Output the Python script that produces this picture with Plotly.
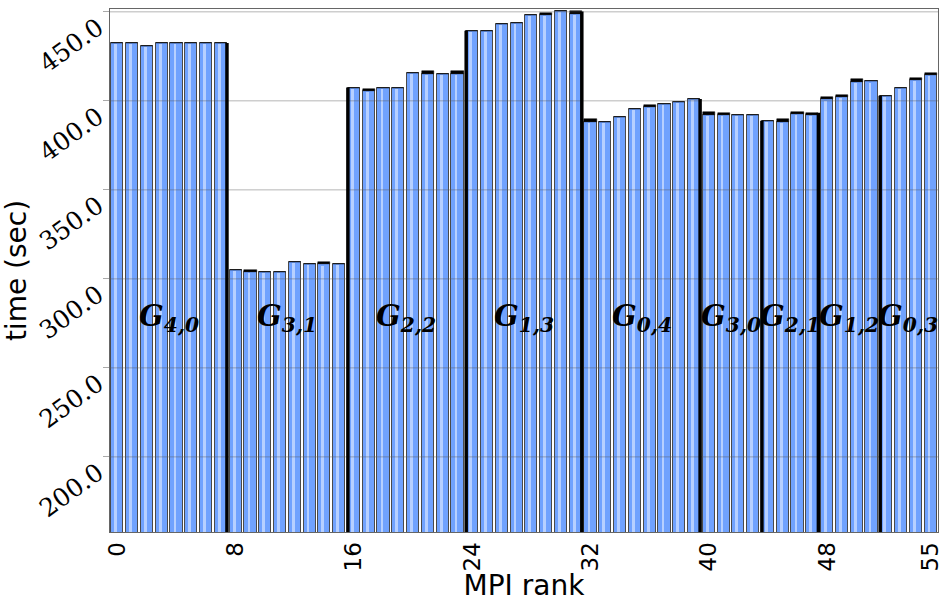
import plotly.graph_objects as go

# ---- data ----
ranks = list(range(56))
total_time = [
    432.5, 432.5, 430.9, 432.5, 432.5, 432.5, 432.5, 432.5,
    305.0, 305.0, 304.0, 304.0, 309.4, 308.3, 309.4, 308.3,
    407.5, 406.6, 407.5, 407.5, 415.6, 416.5, 415.0, 416.5,
    439.4, 439.4, 443.3, 443.9, 448.4, 449.3, 450.6, 450.2,
    389.7, 388.0, 390.8, 395.3, 397.8, 398.3, 399.4, 401.1,
    393.6, 393.3, 392.3, 392.3,
    388.8, 389.7, 393.8, 393.3,
    402.2, 403.4, 412.2, 410.9,
    402.8, 407.3, 412.9, 415.7,
]
cap_time = [
    0, 0, 0, 0, 0, 0, 0, 0,
    0, 1.2, 0, 0, 0, 0, 1.2, 0,
    0, 1.2, 0, 0, 0, 1.2, 0, 1.2,
    0, 0, 0, 0, 0, 1.2, 0, 1.2,
    1.4, 0, 0, 0, 1.2, 0, 0, 0,
    1.3, 1.2, 0, 0,
    0, 1.6, 1.2, 1.2,
    1.4, 1.2, 1.4, 0,
    0, 0, 1.3, 1.2,
]
group_labels = ["4,0", "3,1", "2,2", "1,3", "0,4", "3,0", "2,1", "1,2", "0,3"]
group_centers = [3.5, 11.5, 19.5, 27.5, 35.5, 41.5, 45.5, 49.5, 53.5]
sep_owner = [7, 16, 24, 31, 39, 44, 47, 52]
sep_side = [1, -1, -1, 1, 1, -1, 1, -1]
y_ticks = [200, 250, 300, 350, 400, 450]
y_ticktext = ["200.0", "250.0", "300.0", "350.0", "400.0", "450.0"]
x_ticks = [0, 8, 16, 24, 32, 40, 48, 55]

compute_time = [t - c for t, c in zip(total_time, cap_time)]

Y_MIN, Y_MAX = 157.8, 451.6
BW = 0.82

fig = go.Figure()
fig.add_trace(go.Bar(
    x=ranks, y=compute_time, width=BW,
    marker=dict(color="#70a2fe", line=dict(color="#4a4a4a", width=1)),
    hoverinfo="skip"))
fig.add_trace(go.Bar(
    x=ranks, y=[v - 0.7 for v in compute_time], width=0.19, offset=-0.2,
    marker=dict(color="#b7d0ff", line=dict(width=0)),
    hoverinfo="skip"))
fig.add_trace(go.Bar(
    x=ranks, y=cap_time, base=compute_time, width=BW,
    marker=dict(color="#000000", line=dict(color="#000000", width=0.5)),
    hoverinfo="skip"))

shapes = []
for t in y_ticks:
    shapes.append(dict(type="line", xref="paper", x0=0, x1=1, yref="y", y0=t, y1=t,
                       line=dict(color="rgba(90,90,90,0.45)", width=1), layer="above"))
for o, s in zip(sep_owner, sep_side):
    xe = o + s * BW / 2
    shapes.append(dict(type="line", xref="x", x0=xe, x1=xe, yref="y", y0=Y_MIN,
                       y1=total_time[o], line=dict(color="black", width=3.5), layer="above"))

annotations = []
for g, c in zip(group_labels, group_centers):
    annotations.append(dict(
        x=c, y=278, xref="x", yref="y", showarrow=False,
        text="<b><i>G<sub>%s</sub></i></b>" % g,
        font=dict(family="DejaVu Serif", size=29, color="black")))

fig.update_layout(
    width=940, height=602,
    margin=dict(l=110, r=2, t=9, b=70, autoexpand=False),
    paper_bgcolor="white", plot_bgcolor="white",
    barmode="overlay", bargap=0, showlegend=False,
    shapes=shapes, annotations=annotations,
    xaxis=dict(range=[-0.5, 55.5], tickvals=x_ticks, tickangle=-90,
               tickfont=dict(family="DejaVu Sans", size=23, color="black"),
               ticklabeloverflow="allow", automargin=False,
               title=dict(text="MPI rank", font=dict(family="DejaVu Sans", size=28, color="black"), standoff=4),
               showgrid=False, showline=True, linecolor="#666", mirror=True, ticks="", zeroline=False),
    yaxis=dict(range=[Y_MIN, Y_MAX], tickvals=y_ticks, ticktext=y_ticktext, tickangle=-36,
               tickfont=dict(family="DejaVu Serif", size=25, color="black"),
               ticklabeloverflow="allow", ticklabelshift=13, automargin=False,
               title=dict(text="time (sec)", font=dict(family="DejaVu Sans", size=28, color="black"), standoff=0),
               showgrid=False, showline=True, linecolor="#666", mirror=True,
               ticks="outside", ticklen=6, tickcolor="#aaa", zeroline=False),
)

fig.write_html("out.html")
